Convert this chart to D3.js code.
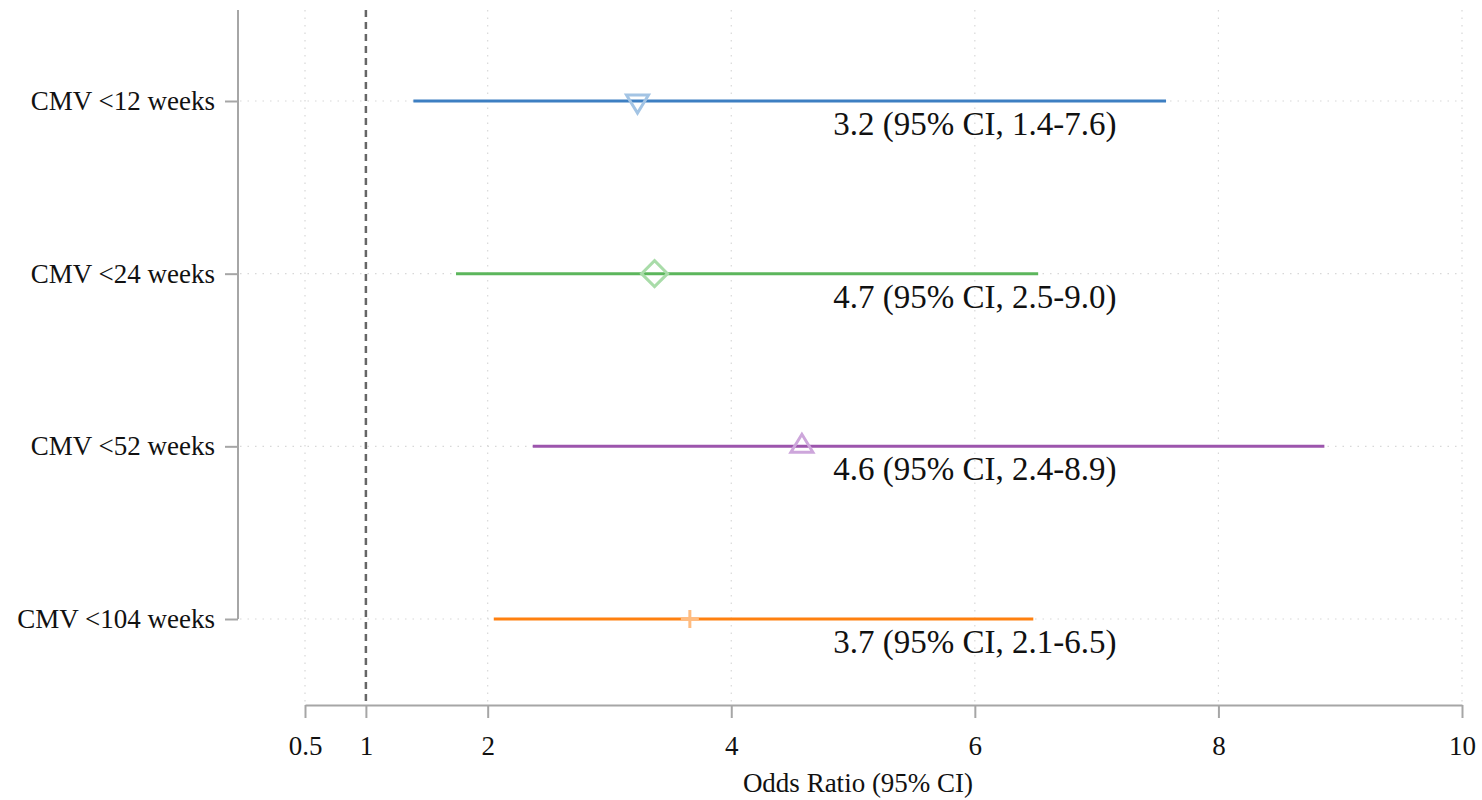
<!DOCTYPE html>
<html>
<head>
<meta charset="utf-8">
<script src="https://cdn.jsdelivr.net/npm/d3@7"></script>
<style>
  body { margin: 0; background: #fff; }
  svg text { font-family: "Liberation Serif", "DejaVu Serif", serif; fill: #111; }
</style>
</head>
<body>
<svg id="chart" width="1482" height="800"></svg>
<script>
// data
var groups = ["CMV <12 weeks", "CMV <24 weeks", "CMV <52 weeks", "CMV <104 weeks"];
var plotEst = [3.23, 3.37, 4.58, 3.66];
var ciLow = [1.39, 1.74, 2.37, 2.05];
var ciHigh = [7.57, 6.52, 8.87, 6.48];
var orText = ["3.2", "4.7", "4.6", "3.7"];
var lowText = ["1.4", "2.5", "2.4", "2.1"];
var highText = ["7.6", "9.0", "8.9", "6.5"];
var xTicks = [0.5, 1, 2, 4, 6, 8, 10];
var gridTicks = [0.5, 2, 4, 6, 8, 10];

var lineColors = ["#3d7fc2", "#5cb65c", "#9c55ad", "#ff800f"];
var markColors = ["#a3c4e4", "#a9dca9", "#cda6db", "#ffbc80"];
var shapes = ["down", "diamond", "up", "plus"];

var svg = d3.select("#chart");
var top0 = 10, axisY = 705;

var x = d3.scaleLinear().domain([0.5, 10]).range([305, 1462]);
var y = d3.scalePoint().domain(groups).range([101, 619]);

// gridlines
svg.append("g").selectAll("line").data(gridTicks).enter().append("line")
    .attr("x1", function(d) { return x(d); }).attr("x2", function(d) { return x(d); })
    .attr("y1", top0).attr("y2", axisY)
    .attr("stroke", "#d8d8d8").attr("stroke-width", 1.2).attr("stroke-dasharray", "1.5,6");

svg.append("g").selectAll("line").data(groups).enter().append("line")
    .attr("x1", 240).attr("x2", x(10))
    .attr("y1", function(d) { return y(d); }).attr("y2", function(d) { return y(d); })
    .attr("stroke", "#d8d8d8").attr("stroke-width", 1.2).attr("stroke-dasharray", "1.5,6");

// reference line at OR = 1
svg.append("line")
    .attr("x1", x(1)).attr("x2", x(1)).attr("y1", top0).attr("y2", axisY)
    .attr("stroke", "#666").attr("stroke-width", 2.5).attr("stroke-dasharray", "7,5");

// x axis
var xAxis = svg.append("g")
    .attr("transform", "translate(0," + axisY + ")")
    .call(d3.axisBottom(x).tickValues(xTicks).tickSize(13).tickSizeOuter(0)
        .tickFormat(function(d) { return d; }));
xAxis.select(".domain").attr("stroke", "#a6a6a6").attr("stroke-width", 2);
xAxis.selectAll(".tick line").attr("stroke", "#a6a6a6").attr("stroke-width", 2);
xAxis.selectAll(".tick text").attr("font-size", 27).attr("dy", "1.25em")
    .style("font-family", "Liberation Serif, serif").attr("fill", "#111");

// y axis
var yAxis = svg.append("g")
    .attr("transform", "translate(238,0)")
    .call(d3.axisLeft(y).tickSize(13).tickSizeOuter(0).tickPadding(10));
yAxis.select(".domain").attr("d", "M0," + top0 + "V" + y(groups[3]))
    .attr("stroke", "#a6a6a6").attr("stroke-width", 2);
yAxis.selectAll(".tick line").attr("stroke", "#a6a6a6").attr("stroke-width", 2);
yAxis.selectAll(".tick text").attr("font-size", 27)
    .style("font-family", "Liberation Serif, serif").attr("fill", "#111");

// axis title
svg.append("text")
    .attr("x", 858).attr("y", 792)
    .attr("text-anchor", "middle").attr("font-size", 27)
    .text("Odds Ratio (95% CI)");

// CI lines
var rows = svg.append("g").selectAll("g").data(groups).enter().append("g");

rows.append("line")
    .attr("x1", function(d, i) { return x(ciLow[i]); })
    .attr("x2", function(d, i) { return x(ciHigh[i]); })
    .attr("y1", function(d) { return y(d); }).attr("y2", function(d) { return y(d); })
    .attr("stroke", function(d, i) { return lineColors[i]; }).attr("stroke-width", 3);

// markers
function markerPath(s) {
    if (s == "down") return "M-11,-6L11,-6L0,12Z";
    if (s == "up") return "M-11,6L11,6L0,-12Z";
    if (s == "diamond") return "M0,-13L13,0L0,13L-13,0Z";
    return "M0,-9V9M-9,0H9";
}
rows.append("path")
    .attr("transform", function(d, i) { return "translate(" + x(plotEst[i]) + "," + y(d) + ")"; })
    .attr("d", function(d, i) { return markerPath(shapes[i]); })
    .attr("fill", "none")
    .attr("stroke", function(d, i) { return markColors[i]; })
    .attr("stroke-width", 3);

// labels
rows.append("text")
    .attr("x", x(6)).attr("y", function(d) { return y(d) + 34; })
    .attr("text-anchor", "middle").attr("font-size", 33)
    .text(function(d, i) { return orText[i] + " (95% CI, " + lowText[i] + "-" + highText[i] + ")"; });
</script>
</body>
</html>
